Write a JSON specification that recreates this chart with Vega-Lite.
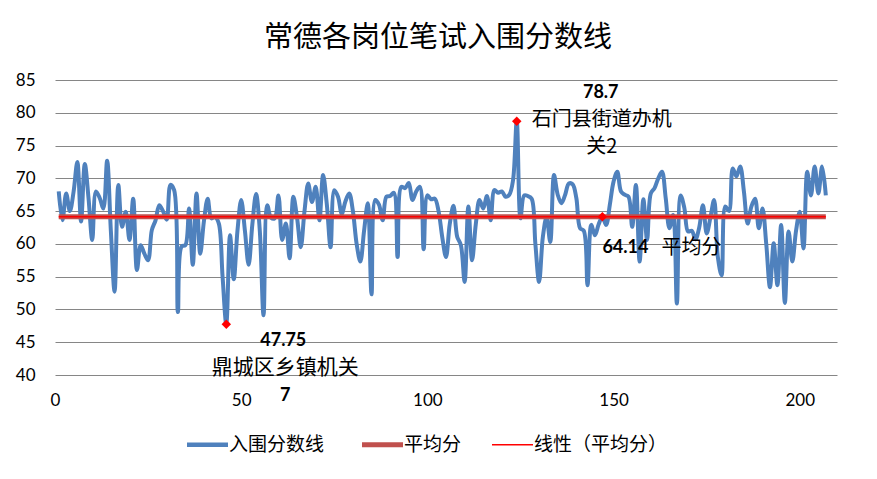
{
  "$schema": "https://vega.github.io/schema/vega-lite/v6.json",
  "width": 782,
  "height": 295,
  "autosize": {"type": "none"},
  "padding": {"left": 55, "top": 80, "right": 40, "bottom": 104},
  "background": "white",
  "title": {"text": "常德各岗位笔试入围分数线", "font": "Noto Sans CJK SC", "fontSize": 29, "fontWeight": "normal", "color": "#000000", "anchor": "middle", "dx": -8, "offset": 18},
  "datasets": {
    "scores": [
      {"x":1,"y":68},{"x":2,"y":63.6},{"x":3,"y":67.7},{"x":4,"y":65},{"x":5,"y":68},{"x":6,"y":72.5},{"x":7,"y":63.4},{"x":8,"y":72.2},{"x":9,"y":67},{"x":10,"y":60.6},
      {"x":11,"y":68},{"x":12,"y":67},{"x":13,"y":65.4},{"x":14,"y":72.7},{"x":15,"y":62},{"x":16,"y":52.7},{"x":17,"y":69},{"x":18,"y":62.6},{"x":19,"y":64.9},{"x":20,"y":60.6},
      {"x":21,"y":66.9},{"x":22,"y":56},{"x":23,"y":59.8},{"x":24,"y":58.5},{"x":25,"y":57.5},{"x":26,"y":62.1},{"x":27,"y":63.6},{"x":28,"y":65.9},{"x":29,"y":65},{"x":30,"y":63.7},
      {"x":31,"y":69},{"x":32,"y":68.2},{"x":33,"y":49.6},{"x":34,"y":59.6},{"x":35,"y":59.8},{"x":36,"y":65.4},{"x":37,"y":56.8},{"x":38,"y":67.7},{"x":39,"y":58.5},{"x":40,"y":63.5},
      {"x":41,"y":66.9},{"x":42,"y":63.9},{"x":43,"y":64.1},{"x":44,"y":63.1},{"x":45,"y":55},{"x":46,"y":47.75},{"x":47,"y":61.3},{"x":48,"y":54.6},{"x":49,"y":62},{"x":50,"y":66.7},
      {"x":51,"y":62},{"x":52,"y":56.8},{"x":53,"y":63},{"x":54,"y":67.6},{"x":55,"y":62},{"x":56,"y":49.1},{"x":57,"y":65.9},{"x":58,"y":64},{"x":59,"y":63.9},{"x":60,"y":67.4},
      {"x":61,"y":60.6},{"x":62,"y":63.1},{"x":63,"y":57.8},{"x":64,"y":67.2},{"x":65,"y":64},{"x":66,"y":59.5},{"x":67,"y":65},{"x":68,"y":69.2},{"x":69,"y":66.4},{"x":70,"y":68.7},
      {"x":71,"y":63.6},{"x":72,"y":70.5},{"x":73,"y":66},{"x":74,"y":59.5},{"x":75,"y":68.2},{"x":76,"y":67.2},{"x":77,"y":64.6},{"x":78,"y":66.5},{"x":79,"y":67.7},{"x":80,"y":65},
      {"x":81,"y":60},{"x":82,"y":57.3},{"x":83,"y":62},{"x":84,"y":66.2},{"x":85,"y":52.3},{"x":86,"y":66.7},{"x":87,"y":66},{"x":88,"y":63.6},{"x":89,"y":67.2},{"x":90,"y":67.3},
      {"x":91,"y":67.8},{"x":92,"y":58},{"x":93,"y":68.7},{"x":94,"y":68.5},{"x":95,"y":69.3},{"x":96,"y":66.7},{"x":97,"y":68},{"x":98,"y":68.7},{"x":99,"y":59.2},{"x":100,"y":67.4},
      {"x":101,"y":66.8},{"x":102,"y":66.9},{"x":103,"y":65},{"x":104,"y":61},{"x":105,"y":58},{"x":106,"y":63},{"x":107,"y":65.8},{"x":108,"y":61.1},{"x":109,"y":59.8},{"x":110,"y":54.2},
      {"x":111,"y":65.7},{"x":112,"y":57.5},{"x":113,"y":63},{"x":114,"y":66.7},{"x":115,"y":65.4},{"x":116,"y":67.3},{"x":117,"y":63.6},{"x":118,"y":68.2},{"x":119,"y":67.8},{"x":120,"y":68},
      {"x":121,"y":67.2},{"x":122,"y":67.5},{"x":123,"y":69.7},{"x":124,"y":78.7},{"x":125,"y":63.9},{"x":126,"y":67.4},{"x":127,"y":67.3},{"x":128,"y":66.9},{"x":129,"y":60},{"x":130,"y":54.2},
      {"x":131,"y":61},{"x":132,"y":64.1},{"x":133,"y":60.3},{"x":134,"y":70.5},{"x":135,"y":67.5},{"x":136,"y":66.2},{"x":137,"y":67.5},{"x":138,"y":69.2},{"x":139,"y":69.1},{"x":140,"y":67},
      {"x":141,"y":62.4},{"x":142,"y":62},{"x":143,"y":53.7},{"x":144,"y":62.9},{"x":145,"y":61.3},{"x":146,"y":63},{"x":147,"y":64.14},{"x":148,"y":62.9},{"x":149,"y":66},{"x":150,"y":69.5},
      {"x":151,"y":71},{"x":152,"y":68},{"x":153,"y":67.5},{"x":154,"y":67.2},{"x":155,"y":62.6},{"x":156,"y":69},{"x":157,"y":57.3},{"x":158,"y":66.8},{"x":159,"y":60.6},{"x":160,"y":67.7},
      {"x":161,"y":68.5},{"x":162,"y":70},{"x":163,"y":71},{"x":164,"y":67},{"x":165,"y":62.4},{"x":166,"y":64.4},{"x":167,"y":50.9},{"x":168,"y":67.4},{"x":169,"y":65.5},{"x":170,"y":61.9},
      {"x":171,"y":62},{"x":172,"y":60.7},{"x":173,"y":62.5},{"x":174,"y":65.9},{"x":175,"y":61.6},{"x":176,"y":64},{"x":177,"y":66.7},{"x":178,"y":58},{"x":179,"y":55.2},{"x":180,"y":65.7},
      {"x":181,"y":65},{"x":182,"y":71.5},{"x":183,"y":70.3},{"x":184,"y":71.8},{"x":185,"y":68},{"x":186,"y":63.1},{"x":187,"y":65.7},{"x":188,"y":66.9},{"x":189,"y":62.4},{"x":190,"y":65.4},
      {"x":191,"y":60},{"x":192,"y":53.4},{"x":193,"y":60.1},{"x":194,"y":53.7},{"x":195,"y":62.9},{"x":196,"y":51},{"x":197,"y":61.9},{"x":198,"y":57.3},{"x":199,"y":62},{"x":200,"y":64.9},
      {"x":201,"y":59.3},{"x":202,"y":71},{"x":203,"y":67.4},{"x":204,"y":71.8},{"x":205,"y":67.7},{"x":206,"y":71.8},{"x":207,"y":67.4}
    ],
    "avg": [{"x":1,"y":64.14},{"x":207,"y":64.14}],
    "hl": [
      {"x":46,"y":47.75,"num":"47.75","name":"鼎城区乡镇机关","name2":"7"},
      {"x":124,"y":78.7,"num":"78.7","name":"石门县街道办机","name2":"关2"},
      {"x":147,"y":64.14,"num":"64.14","name":"平均分","name2":""}
    ]
  },
  "encoding": {
    "x": {"field": "x", "type": "quantitative", "scale": {"domain": [0, 210], "nice": false, "zero": false},
      "axis": {"values": [0, 50, 100, 150, 200], "grid": false, "domain": false, "ticks": false, "title": null, "labelFlush": false, "labelFont": "Lato", "labelFontSize": 17, "labelColor": "#000000", "labelPadding": 17}},
    "y": {"field": "y", "type": "quantitative", "scale": {"domain": [40, 85], "nice": false, "zero": false},
      "axis": {"values": [40, 45, 50, 55, 60, 65, 70, 75, 80, 85], "grid": true, "gridColor": "#868686", "gridWidth": 1, "domain": false, "ticks": false, "title": null, "labelFlush": false, "labelFont": "Lato", "labelFontSize": 17, "labelColor": "#000000", "labelPadding": 20}}
  },
  "layer": [
    {
      "data": {"name": "scores"},
      "mark": {"type": "line", "interpolate": "catmull-rom", "strokeWidth": 4},
      "encoding": {
        "color": {"datum": "入围分数线", "type": "nominal", "scale": {"domain": ["入围分数线", "平均分", "线性（平均分）"], "range": ["#4F81BD", "#C0504D", "#FF0000"]},
          "legend": {"title": null, "orient": "none", "legendX": 143, "legendY": 355, "direction": "horizontal", "symbolType": "stroke", "symbolSize": 1681, "labelFont": "Noto Sans CJK SC", "labelFontSize": 19, "labelColor": "#000000", "labelOffset": 12, "columnPadding": 27, "labelLimit": 300,
            "encode": {"symbols": {"update": {"strokeWidth": {"signal": "datum.value === '线性（平均分）' ? 1.5 : (datum.value === '平均分' ? 5 : 4.5)"}}}}}}
      }
    },
    {
      "data": {"name": "avg"},
      "mark": {"type": "line", "strokeWidth": 5},
      "encoding": {
        "color": {"datum": "平均分", "type": "nominal"}
      }
    },
    {
      "data": {"name": "avg"},
      "mark": {"type": "line", "strokeWidth": 1.5},
      "encoding": {
        "color": {"datum": "线性（平均分）", "type": "nominal"}
      }
    },
    {
      "data": {"name": "hl"},
      "mark": {"type": "point", "shape": "diamond", "filled": true, "color": "#FF0000", "size": 90, "opacity": 1}
    },
    {
      "data": {"name": "hl"},
      "transform": [{"filter": "datum.x == 124"}],
      "mark": {"type": "text", "font": "Lato", "fontWeight": "bold", "fontSize": 18, "color": "#000000", "align": "center", "baseline": "middle", "dx": 84, "dy": -28},
      "encoding": {"text": {"field": "num"}}
    },
    {
      "data": {"name": "hl"},
      "transform": [{"filter": "datum.x == 124"}],
      "mark": {"type": "text", "font": "Noto Sans CJK SC", "fontSize": 20, "color": "#000000", "align": "center", "baseline": "middle", "dx": 85, "dy": -1},
      "encoding": {"text": {"field": "name"}}
    },
    {
      "data": {"name": "hl"},
      "transform": [{"filter": "datum.x == 124"}],
      "mark": {"type": "text", "font": "Noto Sans CJK SC", "fontSize": 20, "color": "#000000", "align": "center", "baseline": "middle", "dx": 85, "dy": 26},
      "encoding": {"text": {"field": "name2"}}
    },
    {
      "data": {"name": "hl"},
      "transform": [{"filter": "datum.x == 46"}],
      "mark": {"type": "text", "font": "Lato", "fontWeight": "bold", "fontSize": 18, "color": "#000000", "align": "center", "baseline": "middle", "dx": 57, "dy": 17},
      "encoding": {"text": {"field": "num"}}
    },
    {
      "data": {"name": "hl"},
      "transform": [{"filter": "datum.x == 46"}],
      "mark": {"type": "text", "font": "Noto Sans CJK SC", "fontSize": 21, "color": "#000000", "align": "center", "baseline": "middle", "dx": 59, "dy": 44},
      "encoding": {"text": {"field": "name"}}
    },
    {
      "data": {"name": "hl"},
      "transform": [{"filter": "datum.x == 46"}],
      "mark": {"type": "text", "font": "Lato", "fontWeight": "bold", "fontSize": 18, "color": "#000000", "align": "center", "baseline": "middle", "dx": 59, "dy": 72},
      "encoding": {"text": {"field": "name2"}}
    },
    {
      "data": {"name": "hl"},
      "transform": [{"filter": "datum.x == 147"}],
      "mark": {"type": "text", "font": "Lato", "fontWeight": "bold", "fontSize": 18, "color": "#000000", "align": "left", "baseline": "middle", "dx": 0, "dy": 31},
      "encoding": {"text": {"field": "num"}}
    },
    {
      "data": {"name": "hl"},
      "transform": [{"filter": "datum.x == 147"}],
      "mark": {"type": "text", "font": "Noto Sans CJK SC", "fontSize": 20, "color": "#000000", "align": "left", "baseline": "middle", "dx": 59, "dy": 31},
      "encoding": {"text": {"field": "name"}}
    }
  ],
  "config": {
    "view": {"stroke": null},
    "legend": {"symbolType": "stroke"}
  }
}
